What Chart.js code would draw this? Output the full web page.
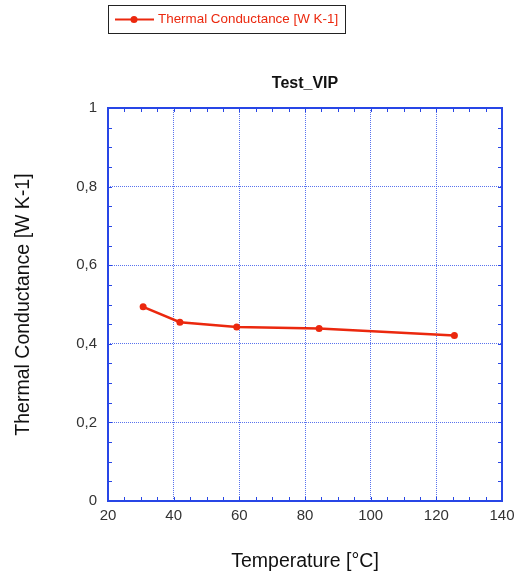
<!DOCTYPE html>
<html>
<head>
<meta charset="utf-8">
<script src="https://cdn.jsdelivr.net/npm/chart.js@4"></script>
<style>
  html, body { margin: 0; padding: 0; background: #fff; }
  #wrap { width: 515px; height: 573px; }
</style>
</head>
<body>
<div id="wrap"><canvas id="kGraph" width="515" height="573"></canvas></div>
<script>
// values
var temperature = [30.7, 41.9, 59.2, 84.3, 125.5];
var conductance = [0.494, 0.455, 0.443, 0.439, 0.421];
var xTicks = [20, 40, 60, 80, 100, 120, 140];
var yTicks = [0, 0.2, 0.4, 0.6, 0.8, 1];
var seriesName = 'Thermal Conductance [W K-1]';
var chartTitle = 'Test_VIP';

var RED = 'rgb(235,40,14)';
var BLUE = 'rgb(40,70,230)';
var FONT = '"Liberation Sans", Arial, sans-serif';

// frame, minor ticks, title and boxed legend
var framePlugin = {
    id: 'frame',
    afterDraw: function(chart) {
        var ctx = chart.ctx, a = chart.chartArea;
        var xs = chart.scales.x, ys = chart.scales.y;
        ctx.save();
        ctx.strokeStyle = BLUE;
        ctx.lineWidth = 1;
        ctx.beginPath();
        for (var v = 20; v <= 140; v += 5) {
            var px = Math.round(xs.getPixelForValue(v)) + 0.5;
            ctx.moveTo(px, a.bottom); ctx.lineTo(px, a.bottom - 4);
            ctx.moveTo(px, a.top); ctx.lineTo(px, a.top + 4);
        }
        for (var k = 0; k <= 20; k++) {
            var py = Math.round(ys.getPixelForValue(k * 0.05)) + 0.5;
            ctx.moveTo(a.left, py); ctx.lineTo(a.left + 4, py);
            ctx.moveTo(a.right, py); ctx.lineTo(a.right - 4, py);
        }
        ctx.stroke();
        ctx.lineWidth = 2;
        ctx.strokeRect(Math.round(a.left), Math.round(a.top),
            Math.round(a.right - a.left), Math.round(a.bottom - a.top));

        // title over the plot area
        ctx.fillStyle = '#111';
        ctx.font = 'bold 16px ' + FONT;
        ctx.textAlign = 'center';
        ctx.textBaseline = 'middle';
        ctx.fillText(chartTitle, (a.left + a.right) / 2, 84);

        // legend box
        ctx.strokeStyle = '#222';
        ctx.lineWidth = 1;
        ctx.strokeRect(108.5, 5.5, 237, 28);
        ctx.strokeStyle = RED;
        ctx.lineWidth = 2;
        ctx.beginPath(); ctx.moveTo(115, 19.5); ctx.lineTo(154, 19.5); ctx.stroke();
        ctx.fillStyle = RED;
        ctx.beginPath(); ctx.arc(134, 19.5, 3.5, 0, Math.PI * 2); ctx.fill();
        ctx.font = '13.4px ' + FONT;
        ctx.textAlign = 'left';
        ctx.fillText(seriesName, 158, 19.5);
        ctx.restore();
    }
};

var ctx = document.getElementById('kGraph').getContext('2d');
new Chart(ctx, {
    type: 'line',
    data: {
        datasets: [{
            label: seriesName,
            data: temperature.map(function(t, i) { return { x: t, y: conductance[i] }; }),
            borderColor: RED,
            backgroundColor: RED,
            borderWidth: 2.5,
            pointRadius: 3.5,
            pointBorderWidth: 0,
            tension: 0
        }]
    },
    options: {
        responsive: false,
        animation: false,
        layout: { padding: { left: 0, right: 13, top: 108, bottom: 0 } },
        plugins: {
            legend: { display: false },
            tooltip: { enabled: false },
            title: { display: false }
        },
        scales: {
            x: {
                type: 'linear',
                min: 20, max: 140,
                afterBuildTicks: function(s) { s.ticks = xTicks.map(function(v) { return { value: v }; }); },
                afterFit: function(s) { s.height = 72; s.paddingLeft = 0; s.paddingRight = 0; },
                grid: { color: 'rgba(60,90,235,0.85)', lineWidth: 1, drawTicks: false },
                border: { display: false, dash: [1, 1] },
                ticks: {
                    color: '#333',
                    padding: 6,
                    maxRotation: 0,
                    font: { family: FONT, size: 15 }
                },
                title: {
                    display: true,
                    text: 'Temperature [°C]',
                    color: '#111',
                    font: { family: FONT, size: 19.5 },
                    padding: { top: 2, bottom: 0 }
                }
            },
            y: {
                type: 'linear',
                min: 0, max: 1,
                afterBuildTicks: function(s) { s.ticks = yTicks.map(function(v) { return { value: v }; }); },
                afterFit: function(s) { s.width = 108; s.paddingTop = 0; s.paddingBottom = 0; },
                grid: { color: 'rgba(60,90,235,0.85)', lineWidth: 1, drawTicks: false },
                border: { display: false, dash: [1, 1] },
                ticks: {
                    color: '#333',
                    padding: 11,
                    font: { family: FONT, size: 15 },
                    callback: function(v) { return String(v).replace('.', ','); }
                },
                title: {
                    display: true,
                    text: seriesName,
                    color: '#111',
                    font: { family: FONT, size: 19.5 },
                    padding: { top: 12, bottom: 0 }
                }
            }
        }
    },
    plugins: [framePlugin]
});
</script>
</body>
</html>
